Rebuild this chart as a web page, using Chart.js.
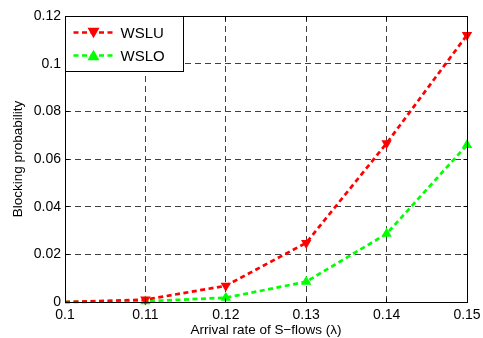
<!DOCTYPE html>
<html>
<head>
<meta charset="utf-8">
<script src="https://cdn.jsdelivr.net/npm/chart.js@4"></script>
<style>
  html, body { margin: 0; padding: 0; background: #fff; }
  #wrap { width: 483px; height: 338px; position: relative; }
</style>
</head>
<body>
<div id="wrap"><canvas id="c" width="483" height="338"></canvas></div>
<script>
// Arrival rate of S-flows (λ)
const arrivalRates = [0.1, 0.11, 0.12, 0.13, 0.14, 0.15];
// Blocking probability per scheme
const wsluValues = [0, 0.001, 0.0068, 0.0248, 0.0666, 0.112];
const wsloValues = [0, 0.0003, 0.0018, 0.0085, 0.0286, 0.0659];
// Axis tick labels
const xTickLabels = ['0.1', '0.11', '0.12', '0.13', '0.14', '0.15'];
const yTickLabels = ['0', '0.02', '0.04', '0.06', '0.08', '0.1', '0.12'];

const FONT = 'Liberation Sans, Arial, Helvetica, sans-serif';

function toPoints(xs, ys) {
  return xs.map((x, i) => ({ x: x, y: ys[i] }));
}

// snap to the same half-pixel grid Chart.js uses for 1px grid lines
function align(px) {
  return Math.round(px - 0.5) + 0.5;
}

// Box frame with inward tick marks, plus an inset legend (upper left)
const framePlugin = {
  id: 'frameAndLegend',
  afterDatasetsDraw(chart) {
    const { ctx, scales } = chart;
    const L = align(scales.x.getPixelForValue(scales.x.min));
    const R = align(scales.x.getPixelForValue(scales.x.max));
    const T = align(scales.y.getPixelForValue(scales.y.max));
    const B = align(scales.y.getPixelForValue(scales.y.min));
    ctx.save();
    ctx.strokeStyle = '#000';
    ctx.lineWidth = 1;
    ctx.setLineDash([]);
    ctx.strokeRect(L, T, R - L, B - T);

    // inward tick marks on all four sides
    const tl = 4;
    ctx.beginPath();
    scales.x.ticks.forEach(t => {
      const px = align(scales.x.getPixelForValue(t.value));
      ctx.moveTo(px, B); ctx.lineTo(px, B - tl);
      ctx.moveTo(px, T); ctx.lineTo(px, T + tl);
    });
    scales.y.ticks.forEach(t => {
      const py = align(scales.y.getPixelForValue(t.value));
      ctx.moveTo(L, py); ctx.lineTo(L + tl, py);
      ctx.moveTo(R, py); ctx.lineTo(R - tl, py);
    });
    ctx.stroke();

    // legend box
    const lx = L, ly = T, lw = 118, lh = 55;
    ctx.fillStyle = '#fff';
    ctx.fillRect(lx, ly, lw, lh);
    ctx.strokeRect(lx, ly, lw, lh);
    chart.data.datasets.forEach((ds, i) => {
      const cy = ly + 16 + i * 23;
      ctx.strokeStyle = ds.borderColor;
      ctx.lineWidth = 2.7;
      ctx.setLineDash([5, 3.5]);
      ctx.beginPath();
      ctx.moveTo(lx + 8, cy);
      ctx.lineTo(lx + 49, cy);
      ctx.stroke();
      ctx.setLineDash([]);
      // marker
      ctx.fillStyle = ds.pointBackgroundColor;
      const mx = lx + 28, r = 6;
      ctx.beginPath();
      if (ds.pointRotation === 180) {
        ctx.moveTo(mx - r, cy - r * 0.8);
        ctx.lineTo(mx + r, cy - r * 0.8);
        ctx.lineTo(mx, cy + r * 0.95);
      } else {
        ctx.moveTo(mx - r, cy + r * 0.8);
        ctx.lineTo(mx + r, cy + r * 0.8);
        ctx.lineTo(mx, cy - r * 0.95);
      }
      ctx.closePath();
      ctx.fill();
      ctx.fillStyle = '#000';
      ctx.font = '15px ' + FONT;
      ctx.textBaseline = 'middle';
      ctx.textAlign = 'left';
      ctx.fillText(ds.label, lx + 55, cy + 1);
    });
    ctx.restore();
  }
};

new Chart(document.getElementById('c'), {
  type: 'line',
  data: {
    datasets: [
      {
        label: 'WSLU',
        data: toPoints(arrivalRates, wsluValues),
        borderColor: '#ff0000',
        backgroundColor: '#ff0000',
        pointBackgroundColor: '#ff0000',
        pointBorderColor: '#ff0000',
        borderWidth: 2.7,
        borderDash: [5, 3.5],
        pointStyle: 'triangle',
        pointRotation: 180,
        pointRadius: [0, 6, 6, 6, 6, 6],
        pointBorderWidth: 0,
        tension: 0
      },
      {
        label: 'WSLO',
        data: toPoints(arrivalRates, wsloValues),
        borderColor: '#00ff00',
        backgroundColor: '#00ff00',
        pointBackgroundColor: '#00ff00',
        pointBorderColor: '#00ff00',
        borderWidth: 2.7,
        borderDash: [5, 3.5],
        pointStyle: 'triangle',
        pointRotation: 0,
        pointRadius: [0, 6, 6, 6, 6, 6],
        pointBorderWidth: 0,
        tension: 0
      }
    ]
  },
  options: {
    responsive: false,
    animation: false,
    clip: false,
    layout: { padding: { top: 16, right: 16, left: 0, bottom: 0 } },
    plugins: { legend: { display: false }, tooltip: { enabled: false } },
    scales: {
      x: {
        type: 'linear',
        min: 0.1,
        max: 0.15,
        afterBuildTicks(axis) {
          axis.ticks = arrivalRates.map(v => ({ value: v }));
        },
        afterFit(axis) {
          axis.height = 36;
          axis.paddingLeft = 0;
          axis.paddingRight = 0;
        },
        ticks: {
          color: '#000',
          font: { family: FONT, size: 14 },
          padding: 5,
          maxRotation: 0,
          autoSkip: false,
          callback: (v, i) => xTickLabels[i]
        },
        grid: {
          color: '#404040',
          lineWidth: 1,
          drawTicks: false
        },
        border: { display: false, dash: [6, 4] },
        title: {
          display: true,
          text: 'Arrival rate of S\u2212flows (\u03bb)',
          color: '#000',
          font: { family: FONT, size: 13.5 },
          padding: { top: 1, bottom: 0 }
        }
      },
      y: {
        min: 0,
        max: 0.12,
        afterBuildTicks(axis) {
          axis.ticks = yTickLabels.map(t => ({ value: parseFloat(t) }));
        },
        afterFit(axis) {
          axis.width = 65;
          axis.paddingTop = 0;
          axis.paddingBottom = 0;
        },
        ticks: {
          color: '#000',
          font: { family: FONT, size: 14 },
          padding: 4,
          autoSkip: false,
          callback: (v, i) => yTickLabels[i]
        },
        grid: {
          color: '#404040',
          lineWidth: 1,
          drawTicks: false
        },
        border: { display: false, dash: [6, 4] },
        title: {
          display: true,
          text: 'Blocking probability',
          color: '#000',
          font: { family: FONT, size: 13.5 },
          padding: { top: 10, bottom: 0 }
        }
      }
    }
  },
  plugins: [framePlugin]
});
</script>
</body>
</html>
